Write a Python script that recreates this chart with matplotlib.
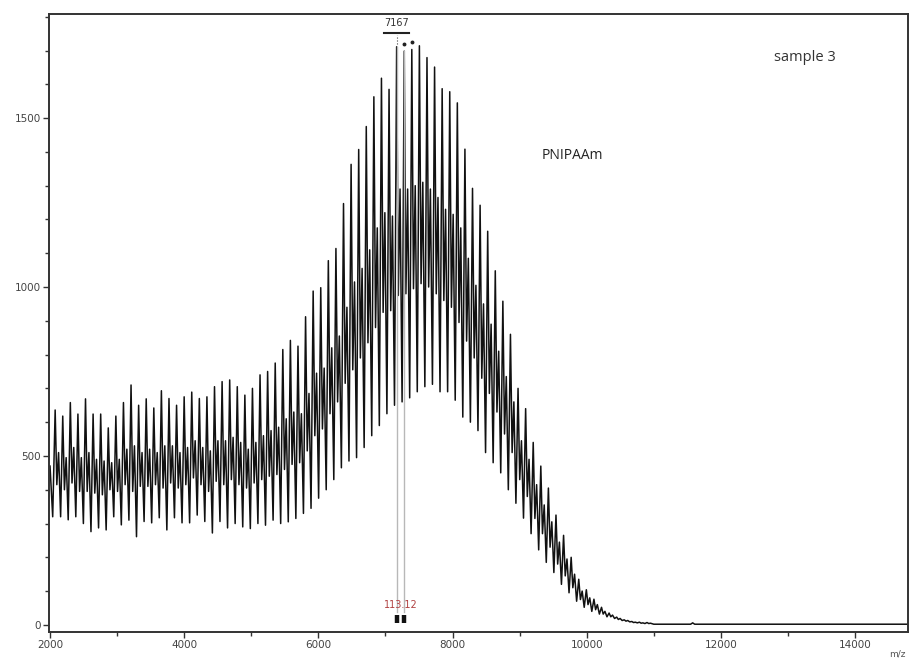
import numpy as np
import matplotlib.pyplot as plt
from matplotlib.ticker import MultipleLocator

# PNIPAAm series: labelled peak at 7167, repeat unit 113.12
ref_peak = 7167
repeat = 113.12
n_index = np.arange(-45, 34)
peak_mz = ref_peak + repeat * n_index

# main peak heights (one per repeat unit)
main = [636, 618, 658, 624, 669, 624, 624, 583, 618, 658,
        710, 650, 669, 642, 693, 670, 650, 675, 689, 670,
        675, 705, 720, 725, 705, 680, 700, 740, 750, 775,
        815, 842, 825, 912, 988, 998, 1078, 1114, 1247, 1363,
        1407, 1475, 1563, 1618, 1585, 1711, 1698, 1703, 1714, 1679,
        1651, 1587, 1578, 1545, 1408, 1292, 1242, 1165, 1048, 958,
        860, 700, 640, 540, 470, 405, 325, 265, 200, 135,
        104, 76, 52, 35, 23, 15, 10, 8, 7]
# small dip right after the main peak
dip = [415, 400, 420, 395, 395, 390, 385, 400, 395, 415,
       395, 410, 410, 415, 405, 420, 405, 415, 435, 415,
       395, 425, 415, 430, 415, 405, 420, 430, 440, 445,
       460, 475, 480, 515, 560, 580, 625, 660, 715, 755,
       790, 835, 880, 925, 930, 975, 980, 995, 1010, 1000,
       980, 960, 940, 895, 840, 790, 730, 685, 630, 565,
       510, 430, 380, 315, 270, 230, 180, 145, 110, 75,
       60, 45, 32, 24, 16, 11, 7, 5, 4]
# secondary series peak
second = [510, 495, 525, 495, 510, 490, 485, 480, 490, 520,
          530, 510, 520, 510, 530, 530, 510, 525, 545, 525,
          515, 545, 545, 555, 540, 520, 540, 560, 575, 585,
          610, 630, 625, 685, 745, 760, 820, 855, 940, 1015,
          1055, 1110, 1175, 1220, 1210, 1290, 1290, 1300, 1310, 1290,
          1265, 1230, 1215, 1175, 1085, 1005, 950, 890, 810, 735,
          660, 545, 490, 415, 355, 305, 245, 195, 150, 100,
          80, 60, 40, 29, 19, 13, 8, 6, 5]
# minimum before the next repeat unit
trough = [320, 311, 320, 300, 276, 287, 281, 320, 296, 310,
          261, 306, 302, 317, 281, 317, 302, 302, 325, 306,
          272, 306, 287, 300, 290, 285, 300, 295, 310, 300,
          305, 315, 330, 345, 375, 400, 430, 465, 485, 495,
          525, 560, 590, 625, 650, 660, 672, 690, 705, 712,
          690, 690, 665, 615, 600, 575, 510, 480, 450, 400,
          360, 316, 270, 222, 185, 155, 120, 95, 70, 52,
          40, 32, 24, 19, 13, 9, 6, 4, 3]

# start of the trace and flat tail
head_mz = [2000, 2040]
head_int = [470, 320]
tail_mz = [11000, 11550, 11580, 11610, 14800]
tail_int = [2, 2, 6, 2, 2]

offsets = np.array([0.0, 0.22, 0.45, 0.72]) * repeat
seg_mz = (peak_mz[:, None] + offsets[None, :]).ravel()
seg_int = np.column_stack([main, dip, second, trough]).ravel()
mz = np.concatenate([head_mz, seg_mz, tail_mz])
inten = np.concatenate([head_int, seg_int, tail_int])

fig = plt.figure(figsize=(9.11, 6.61), dpi=100)
ax = fig.add_axes([0.0538, 0.0439, 0.9429, 0.9349])

ax.plot(mz, inten, color='#111111', lw=1.1)

# spacing marker between 7167 and the next peak
pk0 = peak_mz[45]
pk1 = peak_mz[46]
for p, h in [(pk0, main[45]), (pk1, main[46])]:
    ax.plot([p, p], [38, h], color='#b8b8b8', lw=1.0, zorder=3)
    ax.plot([p, p], [6, 30], color='#111111', lw=3.2, solid_capstyle='butt', zorder=4)
ax.text((pk0 + pk1) / 2, 44, '113.12', color='#b04040', fontsize=7,
        ha='center', va='bottom', zorder=5)

# peak label
ax.text(pk0, 1768, '7167', fontsize=7, ha='center', va='bottom', color='#333333')
ax.plot([pk0 - 190, pk0 + 190], [1752, 1752], color='#222222', lw=1.5)
ax.plot([pk0, pk0], [1720, 1745], color='#444444', lw=0.8, ls=':')
ax.plot([peak_mz[46], peak_mz[47]], [main[46] + 22, main[47] + 22], 'o',
        color='#222222', ms=1.8)

ax.text(12790, 1680, 'sample 3', fontsize=10.5, family='Open Sans',
        color='#333333', va='center')
ax.text(9330, 1390, 'PNIPAAm', fontsize=10, family='Open Sans',
        color='#222222', va='center')
ax.text(0.997, -0.029, 'm/z', transform=ax.transAxes, fontsize=6.5,
        color='#555555', ha='right', va='top')

ax.set_xlim(1985, 14790)
ax.set_ylim(-21, 1808)
ax.xaxis.set_major_locator(MultipleLocator(2000))
ax.xaxis.set_minor_locator(MultipleLocator(1000))
ax.yaxis.set_major_locator(MultipleLocator(500))
ax.yaxis.set_minor_locator(MultipleLocator(100))
ax.tick_params(which='both', direction='out', width=1.0, color='#333333',
               labelsize=7.5, labelcolor='#444444')
ax.tick_params(which='major', length=4, pad=2)
ax.tick_params(which='minor', length=3)
for s in ax.spines.values():
    s.set_linewidth(1.4)
    s.set_color('#333333')

fig.savefig('out.png', dpi=100)
